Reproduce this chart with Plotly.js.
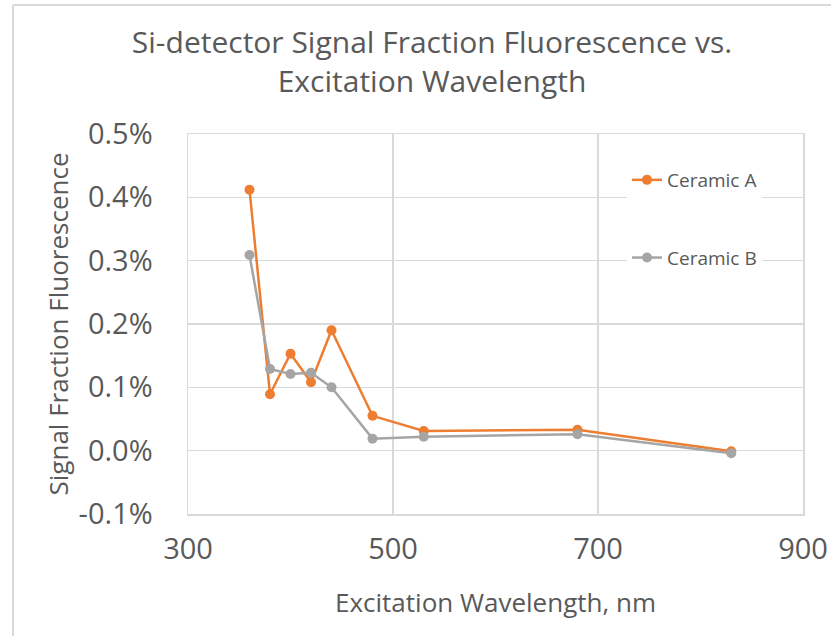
<!DOCTYPE html>
<html>
<head>
<meta charset="utf-8">
<script src="https://cdn.plot.ly/plotly-3.0.1.min.js"></script>
<style>html,body{margin:0;padding:0;background:#fff;}#chart{width:831px;height:636px;}</style>
</head>
<body>
<div id="chart"></div>
<script>
// Data (values in percent)
const wavelength = [360, 380, 400, 420, 440, 480, 530, 680, 830];
const ceramicA = [0.412, 0.089, 0.153, 0.108, 0.190, 0.055, 0.031, 0.033, -0.001];
const ceramicB = [0.309, 0.129, 0.121, 0.123, 0.100, 0.019, 0.022, 0.026, -0.004];
const seriesNames = ["Ceramic A", "Ceramic B"];
const xTicks = [300, 500, 700, 900];
const yTicks = [-0.1, 0.0, 0.1, 0.2, 0.3, 0.4, 0.5];
const yTickText = ["-0.1%", "0.0%", "0.1%", "0.2%", "0.3%", "0.4%", "0.5%"];

const W = 831, H = 636;
const M = {l: 188, r: 28, t: 134, b: 122};
const pw = W - M.l - M.r, ph = H - M.t - M.b;
const px2x = p => (p - M.l) / pw;
const py2y = p => (H - M.b - p) / ph;

const FONT = "Open Sans, sans-serif";
const TXT = "#595959";
const GRID = "#d9d9d9";

const traces = [
  {x: wavelength, y: ceramicA, name: seriesNames[0], legendgroup: "a",
   mode: "lines+markers", line: {color: "#ED7D31", width: 2.5},
   marker: {color: "#ED7D31", size: 10}},
  {x: wavelength, y: ceramicB, name: seriesNames[1], legendgroup: "b",
   mode: "lines+markers", line: {color: "#A5A5A5", width: 2.5},
   marker: {color: "#A5A5A5", size: 10}}
];

const layout = {
  width: W, height: H,
  margin: M,
  paper_bgcolor: "#fff", plot_bgcolor: "#fff",
  font: {family: FONT, color: TXT},
  title: {
    text: "Si-detector Signal Fraction Fluorescence vs.<br>Excitation Wavelength",
    font: {family: FONT, size: 30, color: TXT},
    x: 432 / W, xanchor: "center",
    y: 1 - 53 / H, yanchor: "middle", yref: "container"
  },
  xaxis: {
    range: [300, 900], tickvals: xTicks, ticktext: xTicks.map(String),
    showgrid: true, gridcolor: GRID, gridwidth: 1.5,
    zeroline: false, showline: true, mirror: true, linecolor: GRID, linewidth: 1.5,
    ticks: "", tickfont: {family: FONT, size: 29, color: TXT},
    ticklabelstandoff: 9, automargin: false,
    title: {text: "Excitation Wavelength, nm", font: {family: FONT, size: 26, color: TXT}, standoff: 27}
  },
  yaxis: {
    range: [-0.1, 0.5], tickvals: yTicks, ticktext: yTickText,
    showgrid: true, gridcolor: GRID, gridwidth: 1.5,
    zeroline: false, showline: true, mirror: true, linecolor: GRID, linewidth: 1.5,
    ticks: "", tickfont: {family: FONT, size: 29, color: TXT},
    ticklabelstandoff: 28, automargin: false,
    title: {text: "Signal Fraction Fluorescence", font: {family: FONT, size: 26, color: TXT}, standoff: 2}
  },
  legend: {
    x: px2x(627), xanchor: "left", y: py2y(161), yanchor: "top",
    bgcolor: "#fff", borderwidth: 0,
    font: {family: FONT, size: 19, color: TXT},
    tracegroupgap: 50
  },
  showlegend: true,
  shapes: [
    {type: "line", xref: "paper", yref: "paper", x0: px2x(13), x1: px2x(13), y0: py2y(5), y1: py2y(H), line: {color: GRID, width: 2}},
    {type: "line", xref: "paper", yref: "paper", x0: px2x(13), x1: px2x(W), y0: py2y(5), y1: py2y(5), line: {color: GRID, width: 2}}
  ]
};

Plotly.newPlot("chart", traces, layout, {displayModeBar: false, staticPlot: true});
</script>
</body>
</html>
